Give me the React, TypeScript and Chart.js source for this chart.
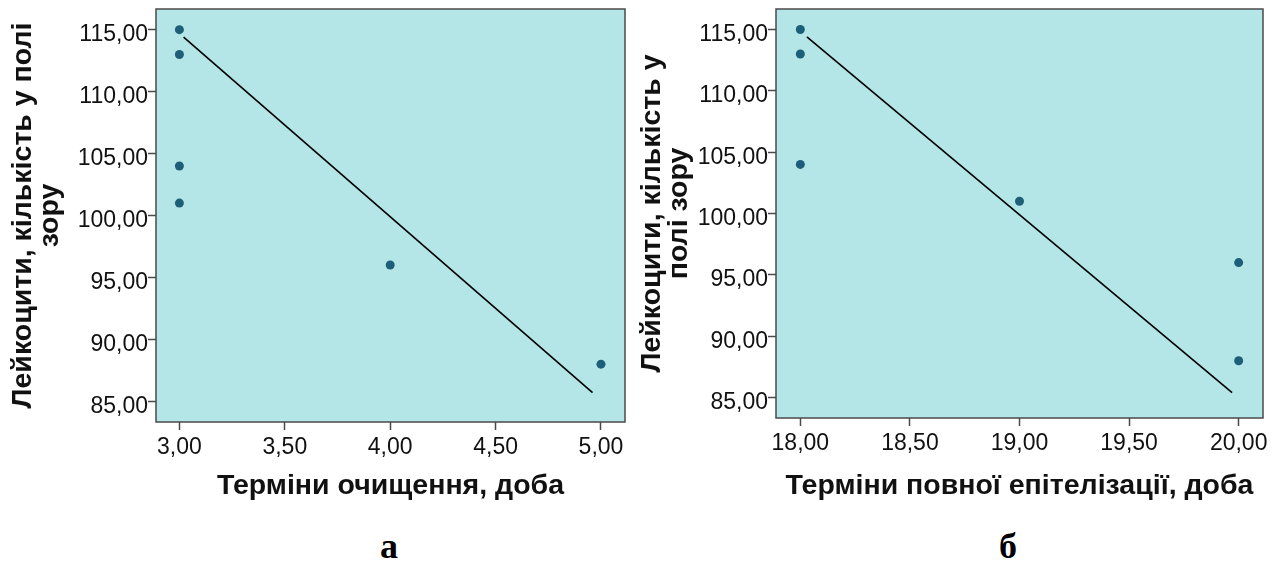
import { useEffect, useRef } from "react";
import { Chart, registerables } from "chart.js";

Chart.register(...registerables);

// Leukocytes per field of view vs. days
const daysCleansing = [3, 3, 3, 3, 4, 5];
const leukocytesA = [115, 113, 104, 101, 96, 88];
const daysEpithelization = [18, 18, 18, 19, 20, 20];
const leukocytesB = [115, 113, 104, 101, 96, 88];

// Fit line end points
const fitAX = [3.02, 4.96];
const fitAY = [114.4, 85.7];
const fitBX = [18.03, 19.97];
const fitBY = [114.4, 85.4];

const yTickValues = [85, 90, 95, 100, 105, 110, 115];
const xTickValuesA = [3, 3.5, 4, 4.5, 5];
const xTickValuesB = [18, 18.5, 19, 19.5, 20];

const PLOT_BG = "#b4e6e8";
const FRAME = "#4a4a4a";
const DOT = "#1d5f79";
const TEXT = "#111111";

const TICK_FONT = { family: "'Liberation Sans', Arial, sans-serif", size: 23 };
const TITLE_FONT_SIZE = 28.5;
const TITLE_LH = 27;

type PanelProps = {
  left: number;
  width: number;
  height: number;
  area: { left: number; right: number; top: number; bottom: number };
  xs: number[];
  ys: number[];
  fitX: number[];
  fitY: number[];
  xMin: number;
  xMax: number;
  xTicks: number[];
  xTitle: string;
  yTitle: string[];
  xTitleMid: number;
  yTitleMid: number;
};

const framePlugin = {
  id: "plotFrame",
  beforeDatasetsDraw(chart: any) {
    const { ctx, chartArea: a } = chart;
    ctx.save();
    ctx.fillStyle = PLOT_BG;
    ctx.fillRect(a.left, a.top, a.right - a.left, a.bottom - a.top);
    ctx.strokeStyle = FRAME;
    ctx.lineWidth = 1.5;
    ctx.strokeRect(a.left, a.top, a.right - a.left, a.bottom - a.top);
    ctx.restore();
  },
};

const fmt = (v: number | string) => Number(v).toFixed(2).replace(".", ",");

const clearPadding = (s: any) => {
  s.paddingTop = 0;
  s.paddingBottom = 0;
  s.paddingLeft = 0;
  s.paddingRight = 0;
};

function Panel(p: PanelProps) {
  const ref = useRef<HTMLCanvasElement | null>(null);

  useEffect(() => {
    if (!ref.current) return;
    const xTitleLineHeight = TITLE_FONT_SIZE * 1.2;
    const chart = new Chart(ref.current, {
      type: "scatter",
      data: {
        datasets: [
          {
            data: p.fitX.map((x, i) => ({ x, y: p.fitY[i] })),
            showLine: true,
            borderColor: "#000000",
            borderWidth: 1.6,
            pointRadius: 0,
            order: 2,
          },
          {
            data: p.xs.map((x, i) => ({ x, y: p.ys[i] })),
            backgroundColor: DOT,
            borderColor: DOT,
            borderWidth: 0,
            pointRadius: 4.5,
            order: 1,
          },
        ],
      },
      options: {
        animation: false,
        responsive: false,
        maintainAspectRatio: false,
        layout: {
          padding: { left: 0, top: p.area.top, right: p.width - p.area.right, bottom: 0 },
        },
        plugins: { legend: { display: false }, tooltip: { enabled: false } },
        scales: {
          x: {
            type: "linear",
            min: p.xMin,
            max: p.xMax,
            afterBuildTicks: (s: any) => {
              s.ticks = p.xTicks.map((v) => ({ value: v }));
            },
            afterFit: (s: any) => {
              s.height = p.height - p.area.bottom;
              clearPadding(s);
            },
            ticks: { font: TICK_FONT, color: TEXT, padding: 4, callback: fmt, maxRotation: 0, autoSkip: false },
            grid: {
              display: true,
              drawOnChartArea: false,
              drawTicks: true,
              tickLength: 8,
              tickColor: FRAME,
              tickWidth: 1.5,
            },
            border: { display: false },
            title: {
              display: true,
              text: p.xTitle,
              color: TEXT,
              font: { family: "'Liberation Sans', Arial, sans-serif", size: TITLE_FONT_SIZE, weight: "bold" },
              padding: { top: 0, bottom: p.height - p.xTitleMid - xTitleLineHeight / 2 },
            },
          },
          y: {
            type: "linear",
            min: 83.33,
            max: 116.67,
            afterBuildTicks: (s: any) => {
              s.ticks = yTickValues.map((v) => ({ value: v }));
            },
            afterFit: (s: any) => {
              s.width = p.area.left;
              clearPadding(s);
            },
            ticks: { font: TICK_FONT, color: TEXT, padding: 0, labelOffset: 5, callback: fmt, autoSkip: false },
            grid: {
              display: true,
              drawOnChartArea: false,
              drawTicks: true,
              tickLength: 8,
              tickColor: FRAME,
              tickWidth: 1.5,
            },
            border: { display: false },
            title: {
              display: true,
              text: p.yTitle,
              color: TEXT,
              font: {
                family: "'Liberation Sans', Arial, sans-serif",
                size: TITLE_FONT_SIZE,
                weight: "bold",
                lineHeight: TITLE_LH / TITLE_FONT_SIZE,
              },
              padding: { top: p.yTitleMid - TITLE_LH / 2, bottom: 0 },
            },
          },
        },
      },
      plugins: [framePlugin],
    } as any);
    return () => chart.destroy();
  }, []);

  return (
    <canvas
      ref={ref}
      width={p.width}
      height={p.height}
      style={{ position: "absolute", left: p.left, top: 0, width: p.width, height: p.height }}
    />
  );
}

const captionStyle = (center: number): any => ({
  position: "absolute",
  left: center - 50,
  width: 100,
  top: 528,
  textAlign: "center",
  fontFamily: "'Liberation Serif', 'Times New Roman', serif",
  fontWeight: "bold",
  fontSize: 36,
  lineHeight: "36px",
  color: "#000",
});

export default function App() {
  return (
    <div style={{ position: "absolute", left: 0, top: 0, width: 1284, height: 575, background: "#fff", overflow: "hidden" }}>
      <Panel
        left={0}
        width={640}
        height={520}
        area={{ left: 156, right: 625, top: 9, bottom: 422 }}
        xs={daysCleansing}
        ys={leukocytesA}
        fitX={fitAX}
        fitY={fitAY}
        xMin={2.889}
        xMax={5.114}
        xTicks={xTickValuesA}
        xTitle="Терміни очищення, доба"
        yTitle={["Лейкоцити, кількість у полі", "зору"]}
        xTitleMid={486}
        yTitleMid={23}
      />
      <Panel
        left={625}
        width={659}
        height={520}
        area={{ left: 151, right: 638, top: 9, bottom: 418 }}
        xs={daysEpithelization}
        ys={leukocytesB}
        fitX={fitBX}
        fitY={fitBY}
        xMin={17.889}
        xMax={20.111}
        xTicks={xTickValuesB}
        xTitle="Терміни повної епітелізації, доба"
        yTitle={["Лейкоцити, кількість у", "полі зору"]}
        xTitleMid={486}
        yTitleMid={27}
      />
      <div style={captionStyle(389)}>а</div>
      <div style={captionStyle(1008)}>б</div>
    </div>
  );
}
